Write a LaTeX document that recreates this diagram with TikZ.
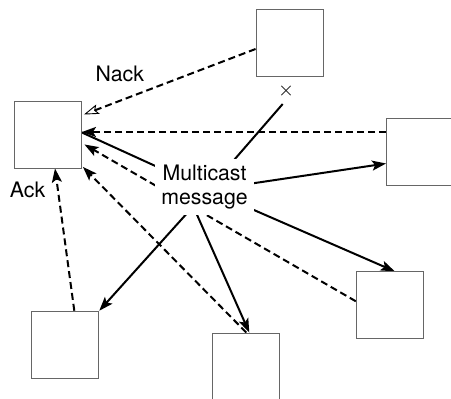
\documentclass[tikz,border=0pt]{standalone}
\usepackage{fontspec}
\setmainfont{TeX Gyre Heros}
\usetikzlibrary{arrows.meta,shapes.misc}
\pgfdeclarelayer{bg}
\pgfsetlayers{bg,main}
\begin{document}
\begin{tikzpicture}[x=1pt,y=-1pt,
  host/.style={draw=black!60, line width=0.9pt, minimum size=67pt, inner sep=0pt},
  lbl/.style={font=\fontsize{21.3}{23.3}\selectfont, inner sep=0pt},
  send/.style={line width=2pt, -{Stealth[length=14pt,width=10pt,inset=3pt]}},
  plain/.style={line width=2pt},
  reply/.style={line width=2pt, dash pattern=on 7pt off 4pt,
    -{Stealth[length=14pt,width=10pt,inset=3pt]}},
  nackline/.style={line width=2pt, dash pattern=on 7pt off 4pt,
    -{Stealth[open,length=15pt,width=10pt,inset=3pt,line width=0.9pt]}}]
\clip (0,0) rectangle (451,399);

% hosts
\node[host] (S)  at (48,134.5) {};
\node[host] (T)  at (289.5,43) {};
\node[host] (R)  at (420,151.5) {};
\node[host] (BR) at (389.8,305.3) {};
\node[host] (BM) at (246.3,366.5) {};
\node[host] (BL) at (65.3,344.7) {};

% message hub label
\node[lbl, fill=white, align=center, inner xsep=6pt, inner ysep=6pt]
  (msg) at (204.5,187) {Multicast\\message};
\coordinate (hub)  at (208,190);
\coordinate (hub2) at (186,190);
\coordinate (lost) at (282.7,104);
\node[cross out, draw=black!80, line width=0.8pt, minimum size=8.5pt, inner sep=0pt]
  (drop) at (286,90.5) {};

\node[lbl, anchor=base] (nack) at (119.8,81) {Nack};
\node[lbl, anchor=base] (ack)  at (27.5,197.7) {Ack};

\begin{pgfonlayer}{bg}
  % multicast from the sender
  \draw[plain] ([yshift=2pt]S.east) -- (hub);
  \draw[plain] (hub) -- (lost);
  \draw[send] (hub) -- ([yshift=-12pt]R.west);
  \draw[send] (hub) -- ([xshift=5pt]BR.north);
  \draw[send] (hub2) -- ([xshift=3pt]BM.north);
  \draw[send] (hub) -- (BL.north east);

  % replies back to the sender
  \draw[nackline] ([yshift=-6pt]T.west) -- ([shift={(2pt,20pt)}]S.east);
  \draw[reply] ([yshift=19.5pt]R.west) -- ([yshift=2.5pt]S.east);
  \draw[reply] ([yshift=4pt]BR.west) -- ([shift={(2.5pt,-10pt)}]S.east);
  \draw[reply] (BM.north) -- ([shift={(1pt,1.5pt)}]S.south east);
  \draw[reply] ([xshift=9pt]BL.north) -- ([xshift=7pt]S.south);
\end{pgfonlayer}
\end{tikzpicture}
\end{document}
